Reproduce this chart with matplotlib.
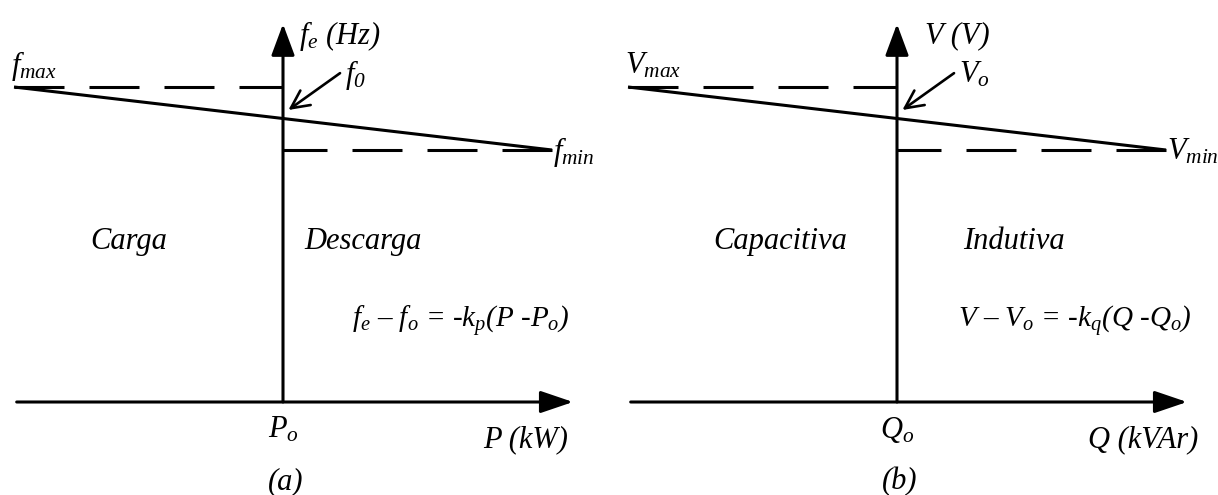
import matplotlib
matplotlib.use("Agg")
import matplotlib.pyplot as plt

# Fonts: Times-like italic for every label, including math subscripts
plt.rcParams["font.family"] = "Liberation Serif"
plt.rcParams["font.style"] = "italic"
plt.rcParams["mathtext.fontset"] = "custom"
plt.rcParams["mathtext.it"] = "Liberation Serif:italic"
plt.rcParams["mathtext.rm"] = "Liberation Serif:italic"
plt.rcParams["mathtext.default"] = "it"
plt.rcParams["lines.scale_dashes"] = False

# ---- droop characteristic (normalised units) ----
droop_x = [-1.0, 1.0]        # deviation from the set point (P - Po or Q - Qo)
droop_y = [1.0, 0.0]         # from maximum (f_max / V_max) to minimum (f_min / V_min)
set_point_x = 0.0            # Po / Qo
set_point_y = 0.5            # f0 / Vo
axis_base = -4.0             # level of the horizontal axis
axis_top = 2.0               # tip of the vertical axis
h_axis_span = [-0.99, 1.078] # start and tip of the horizontal axis

# ---- texts ----
panel_tags = ["(a)", "(b)"]
y_labels = [r"$f_e$ (Hz)", "V (V)"]
x_labels = ["P (kW)", "Q (kVAr)"]
origin_labels = [r"$P_o$", r"$Q_o$"]
max_labels = [r"$f_{max}$", r"$V_{max}$"]
min_labels = [r"$f_{min}$", r"$V_{min}$"]
set_labels = [r"$f_0$", r"$V_o$"]
left_regions = ["Carga", "Capacitiva"]
right_regions = ["Descarga", "Indutiva"]
equations = [r"$f_e$ – $f_o$ = -$k_p$($P$ -$P_o$)",
             r"$V$ – $V_o$ = -$k_q$($Q$ -$Q_o$)"]

# ---- layout (pixels) ----
W, H = 1218, 495
origins_px = [283, 897]      # x position of the vertical axis in each panel
ref_px = 150                 # y pixel of droop_y == 0
sx, sy = 269.0, 63.0         # pixels per unit
FS = 22
LW = 2.2
INK = "black"

left_region_x = [-0.572, -0.435]
right_region_x = [0.297, 0.435]

fig = plt.figure(figsize=(W / 100, H / 100), dpi=100)
fig.patch.set_facecolor("white")

for i, ox in enumerate(origins_px):
    left_px = i * W / 2
    ax = fig.add_axes([left_px / W, 0, 0.5, 1])
    ax.set_xlim((left_px - ox) / sx, (left_px + W / 2 - ox) / sx)
    ax.set_ylim((ref_px - H) / sy, ref_px / sy)
    ax.axis("off")

    # axes with filled arrow heads
    ax.annotate("", xy=(set_point_x, axis_top), xytext=(set_point_x, axis_base),
                arrowprops=dict(arrowstyle="-|>,head_length=1.94,head_width=0.72",
                                mutation_scale=10, lw=LW, color=INK,
                                shrinkA=0, shrinkB=0))
    ax.annotate("", xy=(h_axis_span[1], axis_base), xytext=(h_axis_span[0], axis_base),
                arrowprops=dict(arrowstyle="-|>,head_length=2.0,head_width=0.68",
                                mutation_scale=10, lw=LW, color=INK,
                                shrinkA=0, shrinkB=0))

    # limit levels (dashed)
    ax.plot([droop_x[0], set_point_x], [droop_y[0], droop_y[0]], color=INK, lw=LW,
            dashes=(36, 18), solid_capstyle="butt", dash_capstyle="butt")
    ax.plot([droop_x[1], set_point_x], [droop_y[1], droop_y[1]], color=INK, lw=LW,
            dashes=(36, 18), solid_capstyle="butt", dash_capstyle="butt")

    # droop line
    ax.plot(droop_x, droop_y, color=INK, lw=LW, solid_capstyle="butt")

    # pointer to the set point
    ax.annotate("", xy=(set_point_x + 0.02, set_point_y + 0.135),
                xytext=(set_point_x + 0.212, set_point_y + 0.72),
                arrowprops=dict(arrowstyle="->,head_length=0.65,head_width=0.32",
                                mutation_scale=20, lw=1.9, color=INK,
                                shrinkA=0, shrinkB=0))

    # labels
    ax.text(droop_x[0] - 0.01, droop_y[0] + 0.33, max_labels[i], fontsize=FS,
            ha="left", va="center", color=INK)
    ax.text(droop_x[1] + 0.005, droop_y[1] - 0.03, min_labels[i], fontsize=FS,
            ha="left", va="center", color=INK)
    ax.text(set_point_x + 0.23, set_point_y + 0.69, set_labels[i], fontsize=FS,
            ha="left", va="center", color=INK)
    ax.text(set_point_x + 0.06 + 0.045 * i, axis_top - 0.19, y_labels[i], fontsize=FS,
            ha="left", va="center", color=INK)
    ax.text(left_region_x[i], -1.46, left_regions[i], fontsize=FS,
            ha="center", va="center", color=INK)
    ax.text(right_region_x[i], -1.46, right_regions[i], fontsize=FS,
            ha="center", va="center", color=INK)
    ax.text(0.66, -2.73, equations[i], fontsize=FS - 1,
            ha="center", va="center", color=INK)
    ax.text(set_point_x, axis_base - 0.44, origin_labels[i], fontsize=FS,
            ha="center", va="center", color=INK)
    ax.text(1.06 + 0.06 * i, axis_base - 0.6, x_labels[i], fontsize=FS,
            ha="right", va="center", color=INK)
    ax.text(set_point_x + 0.01, axis_base - 1.26, panel_tags[i], fontsize=FS,
            ha="center", va="center", color=INK)

fig.savefig("out.png", dpi=100, facecolor="white")
